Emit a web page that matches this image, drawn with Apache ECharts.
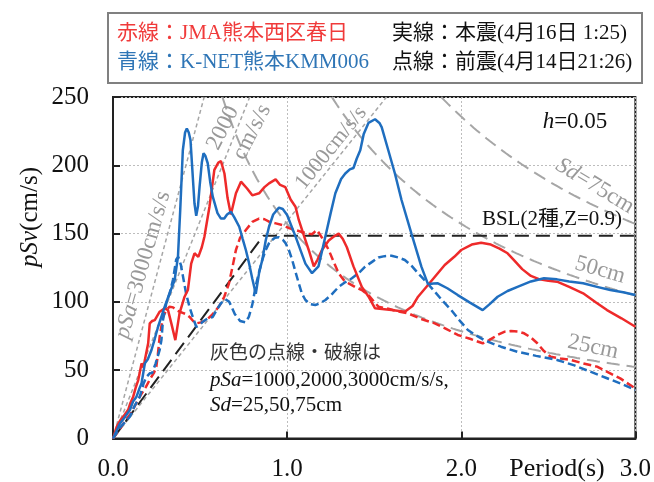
<!DOCTYPE html>
<html><head><meta charset="utf-8">
<script src="https://cdn.jsdelivr.net/npm/echarts@6/dist/echarts.min.js"></script>
<style>html,body{margin:0;padding:0;background:#fff}#c{width:654px;height:482px}</style>
</head><body><div id="c"></div>
<script>
// ---- data (period s, pSv cm/s) ----
const jmaMain = [[0,0],[0.021,8.6],[0.04,13],[0.059,16],[0.087,21],[0.10,26],[0.116,30.6],[0.13,37],[0.145,42.8],[0.164,55],[0.175,52],[0.19,62],[0.202,69.7],[0.211,84.3],[0.225,86],[0.24,86.7],[0.268,92.8],[0.297,95.3],[0.316,94],[0.335,84.3],[0.358,72],[0.382,91.6],[0.411,103.8],[0.43,108.7],[0.449,128],[0.468,135.6],[0.49,133],[0.51,140],[0.525,147.7],[0.554,169.7],[0.582,196.6],[0.605,202],[0.62,203],[0.64,194],[0.658,176],[0.677,164],[0.706,179.5],[0.735,188],[0.77,183],[0.80,178],[0.839,179.5],[0.87,184],[0.896,186.8],[0.934,189.7],[0.96,185.6],[0.99,184],[1.02,175],[1.048,169.7],[1.067,160],[1.095,149],[1.124,138],[1.153,126],[1.175,131],[1.2,138],[1.239,145],[1.27,148],[1.296,150],[1.32,146],[1.343,140],[1.381,126],[1.429,111],[1.467,104],[1.505,95.3],[1.6,94],[1.676,92.8],[1.72,97],[1.752,103.8],[1.809,112.4],[1.905,127],[1.96,133],[2.0,138],[2.06,142],[2.114,143.3],[2.17,142],[2.22,139],[2.266,135.6],[2.3,131],[2.35,124],[2.4,119],[2.45,116.5],[2.5,115.5],[2.55,114.8],[2.62,111],[2.70,106.3],[2.77,100],[2.837,94],[2.92,88],[3.0,81.8]];
const jmaFore = [[0,0],[0.04,7],[0.07,13],[0.10,18],[0.13,25],[0.16,32],[0.19,38],[0.215,44],[0.235,48],[0.249,52.6],[0.258,62],[0.268,74.5],[0.287,89],[0.306,94],[0.325,96.5],[0.345,96],[0.363,94],[0.38,93],[0.40,92],[0.42,91],[0.44,89],[0.46,86],[0.478,84.3],[0.505,85],[0.535,86.7],[0.565,90],[0.592,94],[0.615,98],[0.639,103.8],[0.665,113],[0.687,126],[0.706,138],[0.73,147],[0.763,152.6],[0.80,158.5],[0.839,161],[0.87,160.5],[0.896,158.7],[0.935,157.5],[0.972,156.3],[1.01,154],[1.048,152.6],[1.09,151],[1.124,150],[1.143,149.5],[1.16,151.5],[1.172,152.6],[1.19,149],[1.21,145],[1.239,138],[1.265,130],[1.296,121],[1.325,116],[1.353,113.6],[1.39,111],[1.429,108.7],[1.467,105],[1.524,96.5],[1.581,95],[1.64,93],[1.695,91.6],[1.77,87.5],[1.848,84.3],[1.91,80.5],[1.98,75.8],[2.05,73],[2.123,69.7],[2.16,72],[2.209,75.8],[2.25,78.2],[2.285,78.7],[2.325,78.3],[2.361,77],[2.40,74],[2.437,69.7],[2.475,64],[2.513,59.9],[2.57,58.5],[2.627,57.5],[2.70,55],[2.78,52.6],[2.85,48],[2.913,44],[2.96,40],[3.0,36.7]];
const knetMain = [[0,0],[0.04,11],[0.07,16],[0.097,20.9],[0.115,27],[0.135,30.6],[0.15,36],[0.164,40.4],[0.183,55],[0.2,58],[0.221,64.8],[0.24,73],[0.259,81.8],[0.28,90],[0.297,96.5],[0.325,106.3],[0.354,116],[0.373,133],[0.386,167],[0.401,211],[0.414,224],[0.424,227],[0.435,224],[0.445,218.5],[0.458,192],[0.468,172],[0.478,163],[0.488,170],[0.497,184],[0.51,202],[0.52,208.8],[0.53,207],[0.544,201.5],[0.558,188],[0.573,177],[0.6,165],[0.62,161],[0.639,161],[0.655,164],[0.677,166],[0.696,162],[0.725,155],[0.745,146],[0.763,138],[0.782,128],[0.80,117],[0.82,106],[0.84,122],[0.858,131],[0.877,145],[0.896,155],[0.92,164],[0.953,169],[0.975,168],[1.0,163.6],[1.048,148],[1.105,128],[1.143,121],[1.18,126],[1.22,148],[1.25,165],[1.277,179.5],[1.31,190],[1.334,194],[1.36,197],[1.381,198],[1.40,205],[1.42,211],[1.44,223],[1.467,231],[1.505,233.7],[1.53,231],[1.543,228],[1.581,211],[1.619,194],[1.657,174.6],[1.714,150],[1.771,125.8],[1.809,113],[1.84,113.5],[1.866,113.6],[1.92,110],[1.98,105],[2.05,99.5],[2.123,94],[2.16,98],[2.209,103.8],[2.266,108],[2.323,111],[2.4,115],[2.475,117.3],[2.55,116.5],[2.62,115],[2.70,113.6],[2.78,111],[2.856,108.7],[2.93,107],[3.0,105]];
const knetFore = [[0,0],[0.04,8],[0.07,12],[0.097,16],[0.125,24],[0.154,30.6],[0.175,40],[0.192,45],[0.211,47.7],[0.225,48],[0.245,55],[0.268,64.8],[0.278,72],[0.287,86.7],[0.306,99],[0.325,106],[0.344,116],[0.363,131],[0.375,133],[0.39,127],[0.42,106],[0.44,96],[0.458,89],[0.478,81.8],[0.497,83],[0.516,85.5],[0.545,88],[0.573,89],[0.6,95],[0.62,99],[0.645,102],[0.668,100],[0.70,91],[0.73,86],[0.76,85],[0.78,89],[0.80,98],[0.82,112],[0.839,122],[0.858,131],[0.877,138],[0.90,144],[0.93,147],[0.953,147.3],[0.975,145.5],[0.991,143],[1.01,138],[1.029,130.7],[1.048,122],[1.067,113.6],[1.085,106],[1.105,101.4],[1.13,98.5],[1.162,97.7],[1.19,99],[1.22,101.4],[1.26,106],[1.296,111],[1.335,114.5],[1.372,117.3],[1.41,121],[1.448,125.8],[1.49,129.5],[1.524,132.5],[1.56,133.5],[1.6,133.8],[1.64,132.5],[1.676,130.7],[1.714,126.5],[1.752,121],[1.8,114.5],[1.848,107.5],[1.895,100.5],[1.943,94],[1.99,86.5],[2.038,79.4],[2.085,75.5],[2.133,72],[2.18,69.5],[2.228,67.2],[2.323,63.5],[2.43,60.5],[2.55,57.5],[2.65,53.5],[2.74,49],[2.83,44.5],[2.92,40],[3.0,35.5]];
const bsl = [[0,0],[0.864,148.5],[3.0,148.5]];
const pSaLevels = [1000, 2000, 3000];   // cm/s/s
const sdLevels = [25, 50, 75];          // cm
const xTicks = [0, 1, 2, 3];
const yTicks = [0, 50, 100, 150, 200, 250];

// ---- guide lines from the labelled constants ----
const TWO_PI = 2 * Math.PI;
const yMax = yTicks[yTicks.length - 1], xMax = xTicks[xTicks.length - 1];
function pSaLine(a) { const tEnd = Math.min(xMax, yMax * TWO_PI / a); return [[0,0],[tEnd, a * tEnd / TWO_PI]]; }
function sdLine(d) { const pts = []; const t0 = TWO_PI * d / yMax; for (let i = 0; i <= 120; i++) { const t = t0 + (xMax - t0) * i / 120; pts.push([t, TWO_PI * d / t]); } return pts; }

const FONT = "'Liberation Serif','Noto Sans CJK JP',serif";
const RED = '#ee2a2a', BLUE = '#1f6ebf', GRAY = '#a6a6a6';

const series = [];
pSaLevels.forEach(a => series.push({type:'line', data:pSaLine(a), symbol:'none', silent:true, z:1,
  lineStyle:{color:GRAY, width:1.5, type:[4,3]}}));
sdLevels.forEach(d => series.push({type:'line', data:sdLine(d), symbol:'none', silent:true, z:1,
  lineStyle:{color:GRAY, width:2, type:[13,7]}}));
series.push({type:'line', data:bsl, symbol:'none', z:2, lineStyle:{color:'#222', width:2, type:[14,7]}});
series.push({type:'line', data:jmaFore, symbol:'none', z:3, lineStyle:{color:RED, width:2.5, type:[8,4]}});
series.push({type:'line', data:knetFore, symbol:'none', z:3, lineStyle:{color:BLUE, width:2.5, type:[8,4]}});
series.push({type:'line', data:jmaMain, symbol:'none', z:4, lineStyle:{color:RED, width:2.5}});
series.push({type:'line', data:knetMain, symbol:'none', z:4, lineStyle:{color:BLUE, width:2.5}});

function txt(x, y, text, size, color, rotDeg, align, rich) {
  const r = {};
  if (rich) for (const k in rich) r[k] = Object.assign({fontSize:size, fontFamily:FONT, fill:color}, rich[k]);
  return {type:'text', x:x, y:y, rotation:(rotDeg||0)*Math.PI/180, z:100,
    style:{text:text, fontSize:size, fontFamily:FONT, fill:color,
      align:align||'center', textAlign:align||'center', verticalAlign:'middle', textVerticalAlign:'middle', rich:r}};
}
const IT = {i:{fontStyle:'italic'}};

const chart = echarts.init(document.getElementById('c'), null, {renderer:'canvas'});
chart.setOption({
  animation:false,
  backgroundColor:'#fff',
  grid:{left:113, right:15.5, top:97, bottom:43.5, show:true, borderColor:'#222', borderWidth:2},
  xAxis:{type:'value', min:xTicks[0], max:xMax, interval:1,
    axisLine:{lineStyle:{color:'#222', width:2}},
    axisTick:{inside:true, length:7, lineStyle:{color:'#222', width:2}},
    axisLabel:{formatter:v => v.toFixed(1), fontSize:25, fontFamily:FONT, color:'#111', margin:18},
    splitLine:{show:true, lineStyle:{color:'#bdbdbd', width:1, type:[2,2]}}},
  yAxis:{type:'value', min:0, max:yMax, interval:50,
    axisLine:{lineStyle:{color:'#222', width:2}},
    axisTick:{inside:true, length:7, lineStyle:{color:'#222', width:2}},
    axisLabel:{fontSize:25, fontFamily:FONT, color:'#111', margin:24},
    splitLine:{show:true, lineStyle:{color:'#bdbdbd', width:1, type:[2,2]}}},
  series:series,
  graphic:[
    {type:'rect', shape:{x:108, y:13, width:534, height:70}, style:{fill:'#fff', stroke:'#808080', lineWidth:2}, z:90},
    txt(117, 33, '赤線：JMA熊本西区春日', 21, '#f03a3a', 0, 'left'),
    txt(117, 62, '青線：K-NET熊本KMM006', 21, '#2e75b6', 0, 'left'),
    txt(392, 33, '実線：本震(4月16日 1:25)', 21, '#111', 0, 'left'),
    txt(392, 62, '点線：前震(4月14日21:26)', 21, '#111', 0, 'left'),
    txt(30, 217, '{i|pSv}(cm/s)', 25, '#111', 90, 'center', IT),
    txt(557, 469, 'Period(s)', 26, '#111', 0, 'center'),
    txt(575, 122, '{i|h}=0.05', 23, '#111', 0, 'center', IT),
    txt(552, 219, 'BSL(2種,Z=0.9)', 21, '#111', 0, 'center'),
    txt(143, 265, '{i|pSa}=3000cm/s/s', 23, '#999', 74, 'center', IT),
    txt(223, 128, '2000', 23, '#999', 63, 'center'),
    txt(252, 132, 'cm/s/s', 23, '#999', 63, 'center'),
    txt(331, 148, '1000cm/s/s', 22, '#999', 51, 'center'),
    txt(595, 186, '{i|Sd}=75cm', 23, '#999', -31, 'center', IT),
    txt(600, 270, '50cm', 23, '#999', -16, 'center'),
    txt(593, 347, '25cm', 23, '#999', -12, 'center'),
    txt(210, 354, '灰色の点線・破線は', 19, '#333', 0, 'left'),
    txt(210, 380, '{i|pSa}=1000,2000,3000cm/s/s,', 21, '#111', 0, 'left', IT),
    txt(210, 405, '{i|Sd}=25,50,75cm', 21, '#111', 0, 'left', IT)
  ]
});
</script></body></html>
